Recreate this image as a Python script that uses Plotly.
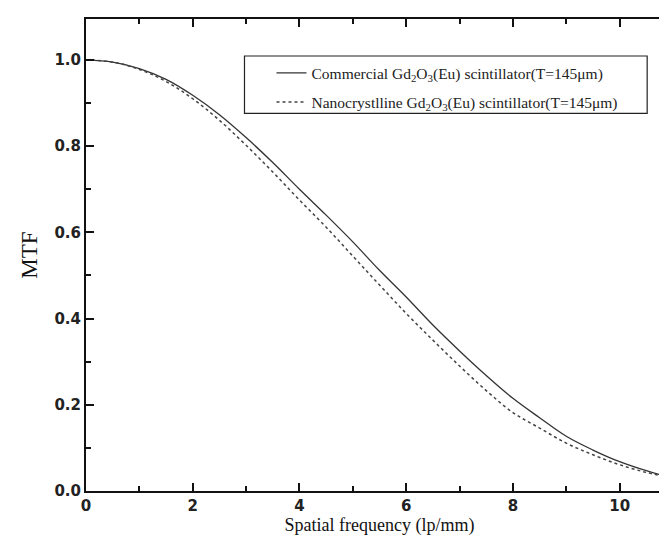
import plotly.graph_objects as go

freq = [0, 0.5, 1, 1.5, 2, 2.5, 3, 3.5, 4, 4.5, 5, 5.5, 6, 6.5, 7, 7.5, 8, 8.5, 9, 9.5, 10, 10.5, 11]
mtf_commercial = [1.000, 0.995, 0.980, 0.955, 0.918, 0.873, 0.820, 0.762, 0.700, 0.640, 0.578, 0.512,
                  0.450, 0.385, 0.325, 0.268, 0.215, 0.170, 0.127, 0.095, 0.068, 0.047, 0.030]
mtf_nano = [1.000, 0.995, 0.978, 0.950, 0.910, 0.860, 0.802, 0.740, 0.675, 0.612, 0.545, 0.478,
            0.412, 0.350, 0.290, 0.233, 0.182, 0.146, 0.111, 0.084, 0.061, 0.043, 0.030]

x_ticks = [0, 2, 4, 6, 8, 10]
y_ticks = [0.0, 0.2, 0.4, 0.6, 0.8, 1.0]

name_commercial = "Commercial Gd<sub>2</sub>O<sub>3</sub>(Eu) scintillator(T=145μm)"
name_nano = "Nanocrystlline Gd<sub>2</sub>O<sub>3</sub>(Eu) scintillator(T=145μm)"

fig = go.Figure()
fig.add_trace(go.Scatter(x=freq, y=mtf_commercial, mode="lines", name=name_commercial,
                         legendgroup="a",
                         line=dict(color="#333333", width=1.3, shape="spline")))
fig.add_trace(go.Scatter(x=freq, y=mtf_nano, mode="lines", name=name_nano,
                         legendgroup="b",
                         line=dict(color="#444444", width=1.5, dash="3px,3px", shape="spline")))

tickfont = dict(family="DejaVu Sans, sans-serif", size=15, color="#222222", weight="bold")
axis_common = dict(showline=True, linecolor="#111111", linewidth=2, mirror="allticks",
                   ticks="inside", ticklen=8, tickwidth=1.5, tickcolor="#111111",
                   showgrid=False, zeroline=False, tickfont=tickfont)
serif = "Liberation Serif, Times New Roman, serif"

fig.update_xaxes(range=[0, 11], tickvals=x_ticks,
                 minor=dict(ticks="inside", ticklen=5, tickwidth=1.5, tickcolor="#111111", dtick=1, tick0=0),
                 title=dict(text="Spatial frequency (lp/mm)",
                            font=dict(family=serif, size=18, color="#111111"),
                            standoff=4),
                 **axis_common)
fig.update_yaxes(range=[0, 1.095], tickvals=y_ticks, tickformat=".1f",
                 minor=dict(ticks="inside", ticklen=5, tickwidth=1.5, tickcolor="#111111", dtick=0.1, tick0=0),
                 title=dict(text="MTF",
                            font=dict(family=serif, size=23, color="#111111"),
                            standoff=10),
                 **axis_common)

# legend frame
fig.add_shape(type="rect", xref="paper", yref="paper",
              x0=0.270, x1=0.956, y0=0.800, y1=0.9216,
              line=dict(color="#222222", width=1.2), fillcolor="rgba(0,0,0,0)", layer="above")

fig.update_layout(
    width=667, height=539,
    margin=dict(l=78, r=0, t=11, b=56),
    paper_bgcolor="white", plot_bgcolor="white",
    showlegend=True,
    legend=dict(x=0.316, y=0.921, xanchor="left", yanchor="top",
                borderwidth=0, bgcolor="rgba(0,0,0,0)",
                font=dict(family=serif, size=15.5, color="#222222"),
                itemwidth=30, traceorder="grouped", tracegroupgap=6),
)

fig.write_html("out.html")
